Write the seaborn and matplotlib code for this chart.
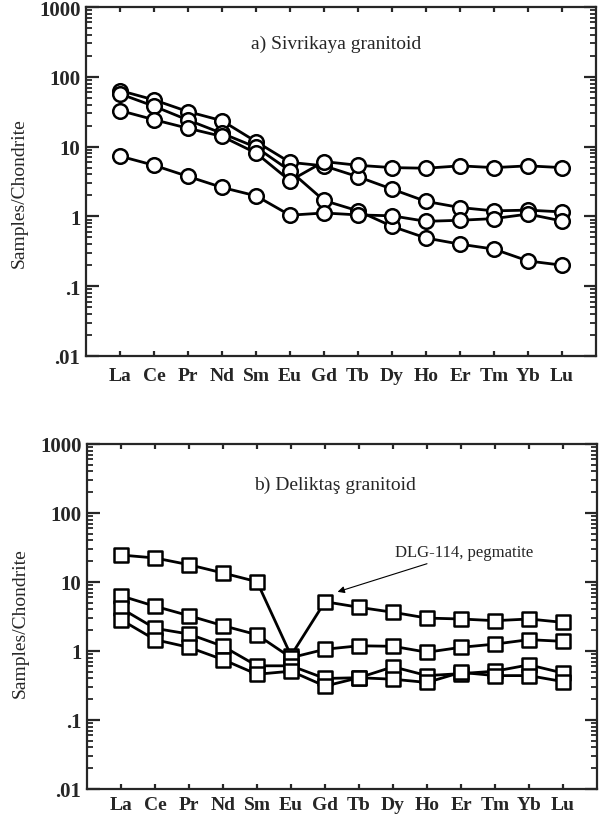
import numpy as np
import pandas as pd
import matplotlib
matplotlib.use("Agg")
import matplotlib.pyplot as plt
from matplotlib.ticker import FixedLocator, FixedFormatter, LogLocator, NullFormatter
import seaborn as sns

# ---------------- data ----------------
elements = ["La", "Ce", "Pr", "Nd", "Sm", "Eu", "Gd", "Tb", "Dy", "Ho", "Er", "Tm", "Yb", "Lu"]

# a) Sivrikaya granitoid (circles)
siv_1 = [63.5, 46.7, 31.7, 23.5, 11.8, 5.95, 5.3, 3.7, 2.46, 1.64, 1.34, 1.2, 1.23, 1.16]
siv_2 = [57.0, 37.9, 24.0, 15.5, 9.8, 4.5, 1.69, 1.2, 0.72, 0.49, 0.40, 0.34, 0.23, 0.20]
siv_3 = [32.8, 24.3, 18.3, 14.0, 8.1, 3.24, 6.1, 5.4, 5.0, 4.9, 5.3, 5.0, 5.3, 5.0]
siv_4 = [7.3, 5.4, 3.74, 2.6, 1.97, 1.04, 1.12, 1.05, 1.02, 0.85, 0.88, 0.93, 1.08, 0.86]

# b) Deliktas granitoid (squares)
del_1 = [24.6, 22.3, 17.8, 13.5, 10.1, 0.86, 5.18, 4.3, 3.64, 3.0, 2.91, 2.75, 2.91, 2.6]
del_2 = [6.3, 4.45, 3.25, 2.33, 1.72, 0.80, 1.06, 1.19, 1.17, 0.96, 1.13, 1.26, 1.46, 1.38]
del_3 = [4.16, 2.13, 1.76, 1.17, 0.61, 0.61, 0.40, 0.41, 0.59, 0.44, 0.47, 0.51, 0.63, 0.48]
del_4 = [2.84, 1.46, 1.13, 0.75, 0.46, 0.51, 0.31, 0.41, 0.39, 0.35, 0.49, 0.44, 0.44, 0.36]

ytick_vals = [0.01, 0.1, 1, 10, 100, 1000]
ytick_labels = [".01", ".1", "1", "10", "100", "1000"]

title_a = "a) Sivrikaya granitoid"
title_b = "b) Deliktaş granitoid"
note_text = "DLG-114, pegmatite"
ylabel = "Samples/Chondrite"

# ---------------- style ----------------
sns.set_style("ticks")
plt.rcParams["font.family"] = ["Liberation Serif", "DejaVu Serif"]
plt.rcParams["axes.linewidth"] = 1.6


def long_df(series_list):
    rows = []
    for i, s in enumerate(series_list):
        for j, v in enumerate(s):
            rows.append({"pos": j + 1, "value": v, "sample": f"s{i}"})
    return pd.DataFrame(rows)


def style_axes(ax, xpad):
    ax.set_yscale("log")
    ax.set_ylim(0.01, 1000)
    ax.set_xlim(0, 15)
    ax.yaxis.set_major_locator(FixedLocator(ytick_vals))
    ax.yaxis.set_major_formatter(FixedFormatter(ytick_labels))
    ax.yaxis.set_minor_locator(LogLocator(base=10, subs=np.arange(2, 10), numticks=20))
    ax.yaxis.set_minor_formatter(NullFormatter())
    ax.set_xticks(np.arange(1, len(elements) + 1))
    ax.set_xticklabels(elements)
    ax.tick_params(axis="y", which="major", direction="in", length=9, width=1.6,
                   left=True, right=True, labelsize=15, pad=4)
    ax.tick_params(axis="y", which="minor", direction="in", length=4.5, width=1.3,
                   left=True, right=True)
    ax.tick_params(axis="x", which="major", direction="in", length=3.5, width=1.6,
                   top=True, bottom=True, labelsize=14, pad=xpad)
    ax.tick_params(axis="x", which="minor", bottom=False, top=False)
    for lab in ax.get_xticklabels() + ax.get_yticklabels():
        lab.set_fontweight("bold")
    for sp in ax.spines.values():
        sp.set_visible(True)
        sp.set_linewidth(1.6)
    ax.set_xlabel("")
    ax.set_ylabel(ylabel, fontsize=14)


fig = plt.figure(figsize=(6.09, 8.2), dpi=100)
ax1 = fig.add_axes([86 / 609, 1 - 357 / 820, 510 / 609, 349 / 820])
ax2 = fig.add_axes([87 / 609, 1 - 790 / 820, 510 / 609, 345 / 820])

for ax, series, mk, msize, xpad in [(ax1, [siv_1, siv_2, siv_3, siv_4], "o", 110, 8),
                                    (ax2, [del_1, del_2, del_3, del_4], "s", 100, 5)]:
    df = long_df(series)
    sns.lineplot(data=df, x="pos", y="value", units="sample", estimator=None,
                 color="black", linewidth=2.0, sort=False, ax=ax, legend=False, zorder=2)
    sns.scatterplot(data=df, x="pos", y="value", marker=mk, s=msize,
                    facecolor="white", edgecolor="black", linewidth=1.8,
                    ax=ax, legend=False, zorder=3)
    style_axes(ax, xpad)

ax1.yaxis.set_label_coords(-0.115, 0.47)
ax2.yaxis.set_label_coords(-0.115, 0.485)

ax1.text(7.37, 300, title_a, ha="center", va="center", fontsize=14)
ax2.text(7.3, 263, title_b, ha="center", va="center", fontsize=14)

ax2.annotate(note_text, xy=(7.37, 7.2), xytext=(9.06, 27.2),
             ha="left", va="center", fontsize=12,
             arrowprops=dict(arrowstyle="-|>", color="black", lw=0.8,
                             mutation_scale=10, shrinkA=1, shrinkB=0))

fig.savefig("out.png", dpi=100)
